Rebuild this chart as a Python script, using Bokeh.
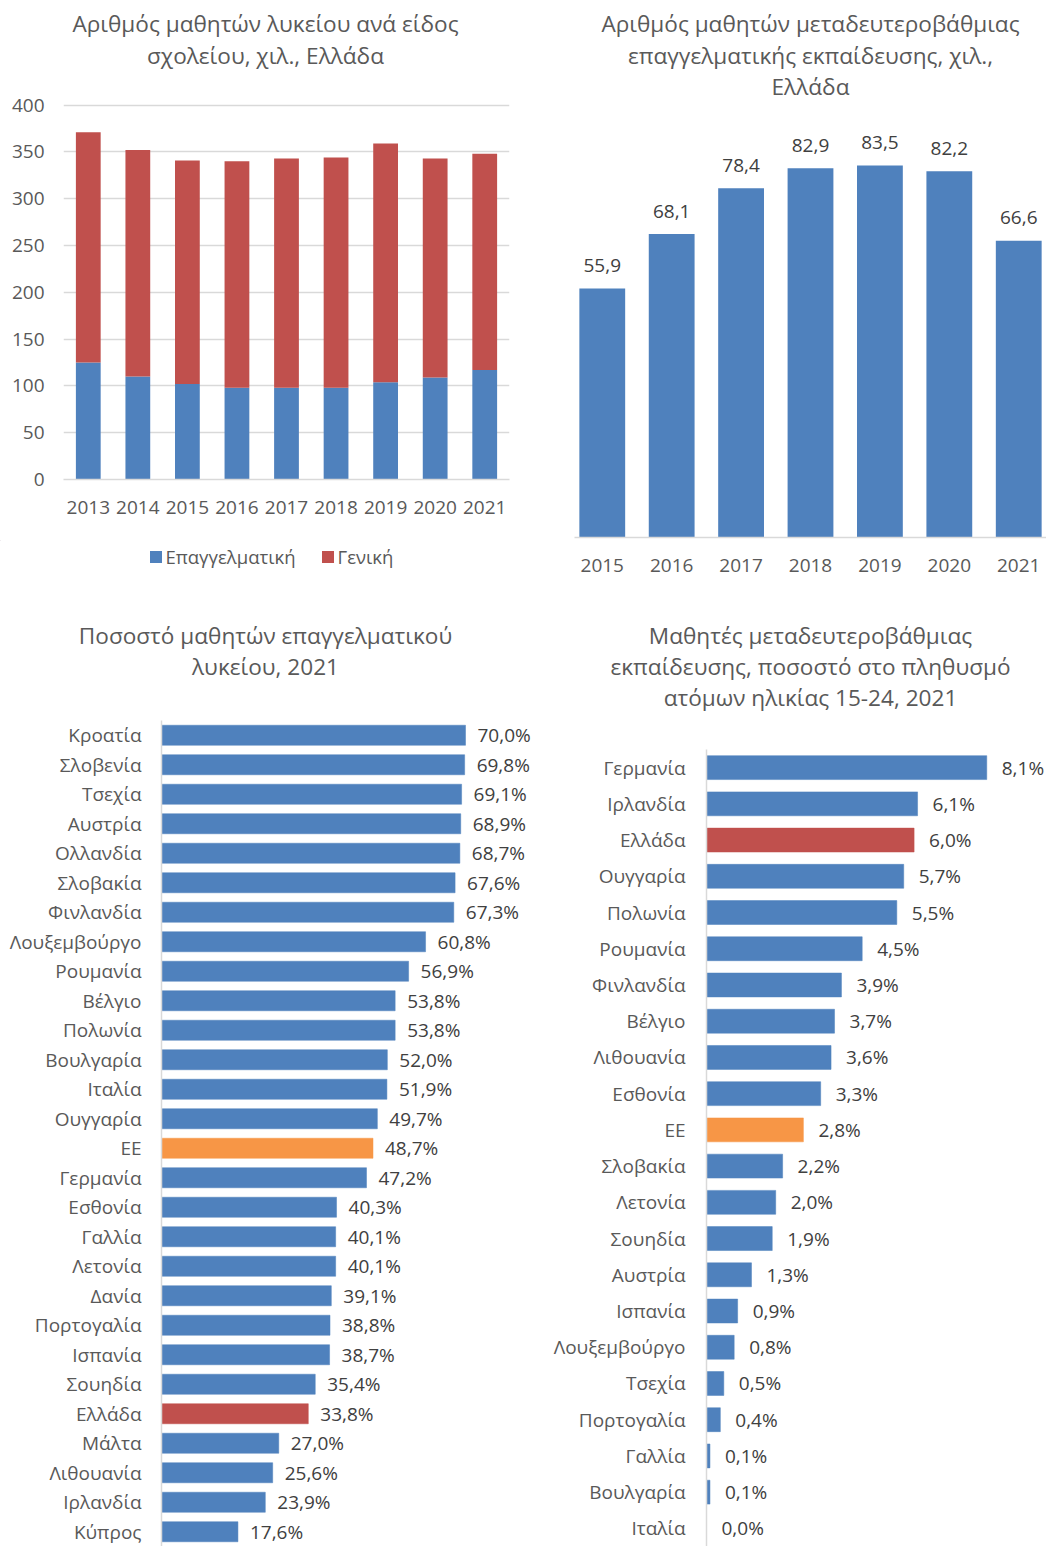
from bokeh.plotting import figure
from bokeh.models import (Range1d, FactorRange, Legend, LegendItem,
                          ColumnDataSource, FixedTicker)
from bokeh.layouts import column, row
from bokeh.embed import file_html
from bokeh.resources import INLINE
from bokeh.core.properties import value

# ---------------- data ----------------
years_a = ["2013", "2014", "2015", "2016", "2017", "2018", "2019", "2020", "2021"]
vocational_a = [125, 110, 102, 98, 98, 98, 104, 109, 117]
general_a = [246, 242, 239, 242, 245, 246, 255, 234, 231]
yticks_a = [0, 50, 100, 150, 200, 250, 300, 350, 400]
series_a = ["Επαγγελματική", "Γενική"]

years_b = ["2015", "2016", "2017", "2018", "2019", "2020", "2021"]
vet_b = [55.9, 68.1, 78.4, 82.9, 83.5, 82.2, 66.6]

countries_c = ["Κροατία", "Σλοβενία", "Τσεχία", "Αυστρία", "Ολλανδία", "Σλοβακία",
               "Φινλανδία", "Λουξεμβούργο", "Ρουμανία", "Βέλγιο", "Πολωνία",
               "Βουλγαρία", "Ιταλία", "Ουγγαρία", "ΕΕ", "Γερμανία", "Εσθονία",
               "Γαλλία", "Λετονία", "Δανία", "Πορτογαλία", "Ισπανία", "Σουηδία",
               "Ελλάδα", "Μάλτα", "Λιθουανία", "Ιρλανδία", "Κύπρος"]
share_c = [70.0, 69.8, 69.1, 68.9, 68.7, 67.6, 67.3, 60.8, 56.9, 53.8, 53.8,
           52.0, 51.9, 49.7, 48.7, 47.2, 40.3, 40.1, 40.1, 39.1, 38.8, 38.7,
           35.4, 33.8, 27.0, 25.6, 23.9, 17.6]

countries_d = ["Γερμανία", "Ιρλανδία", "Ελλάδα", "Ουγγαρία", "Πολωνία", "Ρουμανία",
               "Φινλανδία", "Βέλγιο", "Λιθουανία", "Εσθονία", "ΕΕ", "Σλοβακία",
               "Λετονία", "Σουηδία", "Αυστρία", "Ισπανία", "Λουξεμβούργο",
               "Τσεχία", "Πορτογαλία", "Γαλλία", "Βουλγαρία", "Ιταλία"]
share_d = [8.1, 6.1, 6.0, 5.7, 5.5, 4.5, 3.9, 3.7, 3.6, 3.3, 2.8, 2.2, 2.0, 1.9,
           1.3, 0.9, 0.8, 0.5, 0.4, 0.1, 0.1, 0.0]

title_a = ["Αριθμός μαθητών λυκείου ανά είδος", "σχολείου, χιλ., Ελλάδα"]
title_b = ["Αριθμός μαθητών μεταδευτεροβάθμιας",
           "επαγγελματικής εκπαίδευσης, χιλ.,", "Ελλάδα"]
title_c = ["Ποσοστό μαθητών επαγγελματικού", "λυκείου, 2021"]
title_d = ["Μαθητές μεταδευτεροβάθμιας", "εκπαίδευσης, ποσοστό στο πληθυσμό",
           "ατόμων ηλικίας 15-24, 2021"]

# ---------------- style ----------------
FONT = "Open Sans"
BLUE = "#4f81bd"
RED = "#c0504d"
ORANGE = "#f79646"
TXT = "#595959"
DTXT = "#404040"
GRID = "#d9d9d9"
TITLE_SIZE = "22.6px"
LBL_SIZE = "19px"
LEFT_W = 534
RIGHT_W = 512


def fmt(v, pct=False):
    s = f"{v:.1f}".replace(".", ",")
    return s + "%" if pct else s


def bar_color(name):
    if name == "Ελλάδα":
        return RED
    if name == "ΕΕ":
        return ORANGE
    return BLUE


def base_fig(**kw):
    p = figure(output_backend="svg", toolbar_location=None, **kw)
    p.outline_line_color = None
    p.background_fill_color = "white"
    p.border_fill_color = "white"
    try:
        p.frame_align = False
    except Exception:
        pass
    return p


def blank_fig(width, height):
    t = base_fig(width=width, height=height, x_range=Range1d(0, width),
                 y_range=Range1d(height, 0), x_axis_location=None,
                 y_axis_location=None, min_border=0)
    t.xgrid.visible = False
    t.ygrid.visible = False
    return t


def title_fig(lines, width, height, cx, ys):
    t = blank_fig(width, height)
    t.text(x=[cx] * len(lines), y=ys, text=lines, text_align="center",
           text_baseline="middle", text_font=value(FONT),
           text_font_size=TITLE_SIZE, text_color=TXT)
    return t


def style_axis(ax, standoff):
    ax.major_tick_line_color = None
    ax.minor_tick_line_color = None
    ax.major_tick_out = 0
    ax.major_tick_in = 0
    ax.minor_tick_out = 0
    ax.minor_tick_in = 0
    ax.major_label_text_font = FONT
    ax.major_label_text_font_size = LBL_SIZE
    ax.major_label_text_color = TXT
    ax.major_label_standoff = standoff


# ---------------- chart A ----------------
ta = title_fig(title_a, LEFT_W, 80, 265, [23, 55])
pa = base_fig(width=LEFT_W, height=460,
              x_range=FactorRange(factors=years_a),
              y_range=Range1d(0, 405),
              min_border_left=63, min_border_right=LEFT_W - 509,
              min_border_top=20, min_border_bottom=61)
src_a = ColumnDataSource(dict(year=years_a, voc=vocational_a, gen=general_a))
pa.vbar_stack(["voc", "gen"], x="year", width=0.5, color=[BLUE, RED],
              line_color=None, source=src_a)
pa.yaxis.ticker = FixedTicker(ticks=yticks_a)
pa.yaxis.axis_line_color = None
style_axis(pa.yaxis, 19)
pa.xaxis.axis_line_color = GRID
pa.xaxis.axis_line_width = 1.5
style_axis(pa.xaxis, 21)
pa.xgrid.visible = False
pa.ygrid.ticker = FixedTicker(ticks=yticks_a)
pa.ygrid.grid_line_color = GRID
pa.ygrid.grid_line_width = 1.5

# legend strip under chart A: key renderers sit outside the visible range,
# only their colours are used by the legend
la = blank_fig(LEFT_W, 60)
keys = [la.vbar(x=[-100], top=[-100], bottom=[-101], width=1, color=c, line_color=None)
        for c in (BLUE, RED)]
leg = Legend(items=[LegendItem(label=s, renderers=[k]) for s, k in zip(series_a, keys)],
             orientation="horizontal", location=(147.5, 31),
             border_line_color=None, background_fill_alpha=0,
             padding=0, margin=0, spacing=24, glyph_width=15, glyph_height=15,
             label_standoff=3, label_height=24, label_text_font=FONT,
             label_text_font_size="18.5px", label_text_color=TXT)
la.add_layout(leg)

# ---------------- chart B ----------------
tb = title_fig(title_b, RIGHT_W, 104, 810 - LEFT_W, [23, 55, 86])
pb = base_fig(width=RIGHT_W, height=496,
              x_range=FactorRange(factors=years_b, range_padding=-0.1,
                                  range_padding_units="absolute"),
              y_range=Range1d(0, 95.85),
              y_axis_location=None,
              min_border_left=574 - LEFT_W, min_border_right=0,
              min_border_top=6, min_border_bottom=63)
src_b = ColumnDataSource(dict(year=years_b, val=vet_b, lbl=[fmt(v) for v in vet_b]))
pb.vbar(x="year", top="val", width=0.66, color=BLUE, line_color=None, source=src_b)
pb.text(x="year", y="val", text="lbl", y_offset=-23, text_align="center",
        text_baseline="middle", text_font=value(FONT), text_font_size=LBL_SIZE,
        text_color=DTXT, source=src_b)
pb.xaxis.axis_line_color = GRID
pb.xaxis.axis_line_width = 1.5
style_axis(pb.xaxis, 21)
pb.xgrid.visible = False
pb.ygrid.visible = False

# ---------------- chart C ----------------
tc = title_fig(title_c, LEFT_W, 100, 265, [35, 66])
pc = base_fig(width=LEFT_W, height=846,
              y_range=FactorRange(factors=countries_c[::-1]),
              x_range=Range1d(0, (LEFT_W - 161) / 4.343),
              x_axis_location=None,
              min_border_left=161, min_border_right=0,
              min_border_top=20, min_border_bottom=0)
src_c = ColumnDataSource(dict(c=countries_c, v=share_c,
                              col=[bar_color(c) for c in countries_c],
                              lbl=[fmt(v, True) for v in share_c]))
pc.hbar(y="c", left=0, right="v", height=0.68, fill_color="col", line_color="col",
        line_width=0.5, source=src_c)
pc.text(x="v", y="c", text="lbl", x_offset=12, text_align="left",
        text_baseline="middle", text_font=value(FONT), text_font_size=LBL_SIZE,
        text_color=DTXT, source=src_c)
pc.yaxis.axis_line_color = GRID
pc.yaxis.axis_line_width = 1.5
style_axis(pc.yaxis, 20)
pc.xgrid.visible = False
pc.ygrid.visible = False

# ---------------- chart D ----------------
td = title_fig(title_d, RIGHT_W, 130, 810 - LEFT_W, [35, 66, 97])
pd_ = base_fig(width=RIGHT_W, height=816,
               y_range=FactorRange(factors=countries_d[::-1]),
               x_range=Range1d(0, (1046 - 706) / 34.6),
               x_axis_location=None,
               min_border_left=706 - LEFT_W, min_border_right=0,
               min_border_top=19, min_border_bottom=0)
src_d = ColumnDataSource(dict(c=countries_d, v=share_d,
                              col=[bar_color(c) for c in countries_d],
                              lbl=[fmt(v, True) for v in share_d]))
pd_.hbar(y="c", left=0, right="v", height=0.66, fill_color="col", line_color="col",
         line_width=0.5, source=src_d)
pd_.text(x="v", y="c", text="lbl", x_offset=15, text_align="left",
         text_baseline="middle", text_font=value(FONT), text_font_size=LBL_SIZE,
         text_color=DTXT, source=src_d)
pd_.yaxis.axis_line_color = GRID
pd_.yaxis.axis_line_width = 1.5
style_axis(pd_.yaxis, 21)
pd_.xgrid.visible = False
pd_.ygrid.visible = False

layout = row(column(ta, pa, la, tc, pc), column(tb, pb, td, pd_))
open("out.html", "w").write(file_html(layout, INLINE))
